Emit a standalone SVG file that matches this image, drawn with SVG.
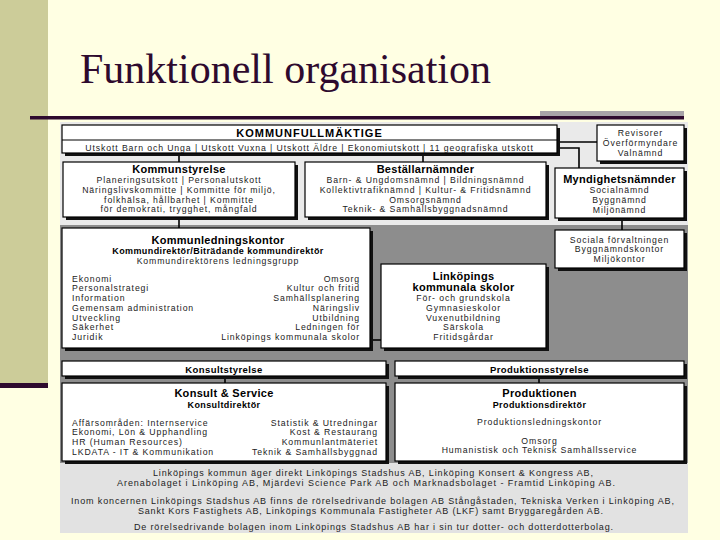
<svg xmlns="http://www.w3.org/2000/svg" width="720" height="540" viewBox="0 0 720 540">
<style>
.bx{fill:#fff;stroke:#000;stroke-width:1.2}
.sh{fill:#111}
.t{font-family:"Liberation Sans",Arial,sans-serif;font-size:8.7px;letter-spacing:0.9px;fill:#222}
.h{font-weight:bold;font-size:11px;letter-spacing:0.3px;fill:#000}
.s{font-weight:bold;font-size:9px;letter-spacing:0.4px;fill:#000}
.c{text-anchor:middle}
.r{text-anchor:end}
.ln{stroke:#000;stroke-width:1.6;fill:none}
.ft{font-family:"Liberation Sans",Arial,sans-serif;font-size:9px;fill:#222;text-anchor:middle}
</style>
<rect width="720" height="540" fill="#FFFFE3"/>
<rect x="0" y="0" width="48" height="383" fill="#CCCC99"/>
<rect x="0" y="383" width="48" height="5" fill="#2E0A2E"/>
<rect x="540" y="111" width="144" height="6" fill="#A8A3A8"/>
<rect x="30" y="116" width="654" height="3.5" fill="#2E0A2E"/>
<text x="80" y="83" font-family="'Liberation Serif','Times New Roman',serif" font-size="42" fill="#2E0A2E">Funktionell organisation</text>

<rect x="60" y="122" width="628" height="103" fill="#EAEAEA"/>
<rect x="60" y="225" width="628" height="238" fill="#8D8D8D"/>
<rect x="60" y="463" width="628" height="70" fill="#E2E2E2"/>

<g id="connectors">
<path class="ln" d="M557 142H597"/>
<path class="ln" d="M557 148H579V168"/>
<path class="ln" d="M179 153V162"/>
<path class="ln" d="M423 153V162"/>
<path class="ln" d="M179 217V228"/>
<path class="ln" d="M622 218V230"/>
<path class="ln" d="M370 340H381"/>
<path class="ln" d="M225 376V383"/>
<path class="ln" d="M539 376V383"/>
</g>

<g id="kommunfullmaktige">
<rect class="sh" x="65" y="128" width="495" height="28"/>
<rect class="bx" x="62" y="125" width="495" height="28"/>
<line x1="62" y1="140" x2="557" y2="140" stroke="#000" stroke-width="1"/>
<text class="t h c" x="309.5" y="136.5" style="letter-spacing:1px">KOMMUNFULLMÄKTIGE</text>
<text class="t c" x="309.5" y="151">Utskott Barn och Unga | Utskott Vuxna | Utskott Äldre | Ekonomiutskott | 11 geografiska utskott</text>
</g>

<g id="revisorer">
<rect class="sh" x="600" y="128" width="87" height="36"/>
<rect class="bx" x="597" y="125" width="87" height="36"/>
<text class="t c" x="640.5" y="136">Revisorer</text>
<text class="t c" x="640.5" y="145.75">Överförmyndare</text>
<text class="t c" x="640.5" y="155.5">Valnämnd</text>
</g>

<g id="myndighetsnamnder">
<rect class="sh" x="558" y="171" width="129" height="50"/>
<rect class="bx" x="555" y="168" width="129" height="50"/>
<text class="t h c" x="619.5" y="183">Myndighetsnämnder</text>
<text class="t c" x="619.5" y="193.2">Socialnämnd</text>
<text class="t c" x="619.5" y="202.9">Byggnämnd</text>
<text class="t c" x="619.5" y="212.6">Miljönämnd</text>
</g>

<g id="sociala">
<rect class="sh" x="558" y="233" width="129" height="38"/>
<rect class="bx" x="555" y="230" width="129" height="38"/>
<text class="t c" x="619.5" y="242.5">Sociala förvaltningen</text>
<text class="t c" x="619.5" y="252.25">Byggnämndskontor</text>
<text class="t c" x="619.5" y="262">Miljökontor</text>
</g>

<g id="kommunstyrelse">
<rect class="sh" x="66" y="165" width="232" height="55"/>
<rect class="bx" x="63" y="162" width="232" height="55"/>
<text class="t h c" x="179" y="172.5">Kommunstyrelse</text>
<text class="t c" x="179" y="183">Planeringsutskott | Personalutskott</text>
<text class="t c" x="179" y="192.75">Näringslivskommitte | Kommitte för miljö,</text>
<text class="t c" x="179" y="202.5">folkhälsa, hållbarhet | Kommitte</text>
<text class="t c" x="179" y="212.25">för demokrati, trygghet, mångfald</text>
</g>

<g id="bestallarnamnder">
<rect class="sh" x="308" y="165" width="241" height="55"/>
<rect class="bx" x="305" y="162" width="241" height="55"/>
<text class="t h c" x="425.5" y="172.5">Beställarnämnder</text>
<text class="t c" x="425.5" y="183">Barn- &amp; Ungdomsnämnd | Bildningsnämnd</text>
<text class="t c" x="425.5" y="192.75">Kollektivtrafiknämnd | Kultur- &amp; Fritidsnämnd</text>
<text class="t c" x="425.5" y="202.5">Omsorgsnämnd</text>
<text class="t c" x="425.5" y="212.25">Teknik- &amp; Samhällsbyggnadsnämnd</text>
</g>

<g id="kommunledningskontor">
<rect class="sh" x="65" y="231" width="308" height="120"/>
<rect class="bx" x="62" y="228" width="308" height="120"/>
<text class="t h c" x="218" y="243.5">Kommunledningskontor</text>
<text class="t s c" x="218" y="254">Kommundirektör/Biträdande kommundirektör</text>
<text class="t c" x="218" y="264">Kommundirektörens ledningsgrupp</text>
<text class="t" x="72" y="281.5">Ekonomi</text>
<text class="t" x="72" y="291.25">Personalstrategi</text>
<text class="t" x="72" y="301">Information</text>
<text class="t" x="72" y="310.75">Gemensam administration</text>
<text class="t" x="72" y="320.5">Utveckling</text>
<text class="t" x="72" y="330.25">Säkerhet</text>
<text class="t" x="72" y="340">Juridik</text>
<text class="t r" x="360" y="281.5">Omsorg</text>
<text class="t r" x="360" y="291.25">Kultur och fritid</text>
<text class="t r" x="360" y="301">Samhällsplanering</text>
<text class="t r" x="360" y="310.75">Näringsliv</text>
<text class="t r" x="360" y="320.5">Utbildning</text>
<text class="t r" x="360" y="330.25">Ledningen för</text>
<text class="t r" x="360" y="340">Linköpings kommunala skolor</text>
</g>

<g id="linkopings-skolor">
<rect class="sh" x="384" y="267" width="165" height="84"/>
<rect class="bx" x="381" y="264" width="165" height="84"/>
<text class="t h c" x="463.5" y="280">Linköpings</text>
<text class="t h c" x="463.5" y="291">kommunala skolor</text>
<text class="t c" x="463.5" y="301.2">För- och grundskola</text>
<text class="t c" x="463.5" y="310.9">Gymnasieskolor</text>
<text class="t c" x="463.5" y="320.6">Vuxenutbildning</text>
<text class="t c" x="463.5" y="330.3">Särskola</text>
<text class="t c" x="463.5" y="340">Fritidsgårdar</text>
</g>

<g id="konsultstyrelse">
<rect class="sh" x="65" y="364" width="324" height="15"/>
<rect class="bx" x="62" y="361" width="324" height="15"/>
<text class="t s c" x="224" y="372.5" style="font-size:9.5px">Konsultstyrelse</text>
</g>

<g id="produktionsstyrelse">
<rect class="sh" x="398" y="364" width="289" height="15"/>
<rect class="bx" x="395" y="361" width="289" height="15"/>
<text class="t s c" x="539.5" y="372.5" style="font-size:9.5px">Produktionsstyrelse</text>
</g>

<g id="konsult-service">
<rect class="sh" x="65" y="386" width="324" height="78"/>
<rect class="bx" x="62" y="383" width="324" height="78"/>
<text class="t h c" x="224" y="397">Konsult &amp; Service</text>
<text class="t s c" x="224" y="408">Konsultdirektör</text>
<text class="t" x="72" y="425.5">Affärsområden: Internservice</text>
<text class="t" x="72" y="435.25">Ekonomi, Lön &amp; Upphandling</text>
<text class="t" x="72" y="445">HR (Human Resources)</text>
<text class="t" x="72" y="454.75">LKDATA - IT &amp; Kommunikation</text>
<text class="t r" x="378" y="425.5">Statistik &amp; Utredningar</text>
<text class="t r" x="378" y="435.25">Kost &amp; Restaurang</text>
<text class="t r" x="378" y="445">Kommunlantmäteriet</text>
<text class="t r" x="378" y="454.75">Teknik &amp; Samhällsbyggnad</text>
</g>

<g id="produktionen">
<rect class="sh" x="398" y="386" width="289" height="78"/>
<rect class="bx" x="395" y="383" width="289" height="78"/>
<text class="t h c" x="539.5" y="397">Produktionen</text>
<text class="t s c" x="539.5" y="408">Produktionsdirektör</text>
<text class="t c" x="539.5" y="425">Produktionsledningskontor</text>
<text class="t c" x="539.5" y="443.5">Omsorg</text>
<text class="t c" x="539.5" y="453.25">Humanistisk och Teknisk Samhällsservice</text>
</g>

<g id="bolag">
<text class="ft" x="373" y="476" textLength="440" lengthAdjust="spacing">Linköpings kommun äger direkt Linköpings Stadshus AB, Linköping Konsert &amp; Kongress AB,</text>
<text class="ft" x="366" y="486" textLength="498" lengthAdjust="spacing">Arenabolaget i Linköping AB, Mjärdevi Science Park AB och Marknadsbolaget - Framtid Linköping AB.</text>
<text class="ft" x="372.5" y="504" textLength="603" lengthAdjust="spacing">Inom koncernen Linköpings Stadshus AB finns de rörelsedrivande bolagen AB Stångåstaden, Tekniska Verken i Linköping AB,</text>
<text class="ft" x="370.5" y="514" textLength="465" lengthAdjust="spacing">Sankt Kors Fastighets AB, Linköpings Kommunala Fastigheter AB (LKF) samt Bryggaregården AB.</text>
<text class="ft" x="373.5" y="530" textLength="479" lengthAdjust="spacing">De rörelsedrivande bolagen inom Linköpings Stadshus AB har i sin tur dotter- och dotterdotterbolag.</text>
</g>
</svg>
